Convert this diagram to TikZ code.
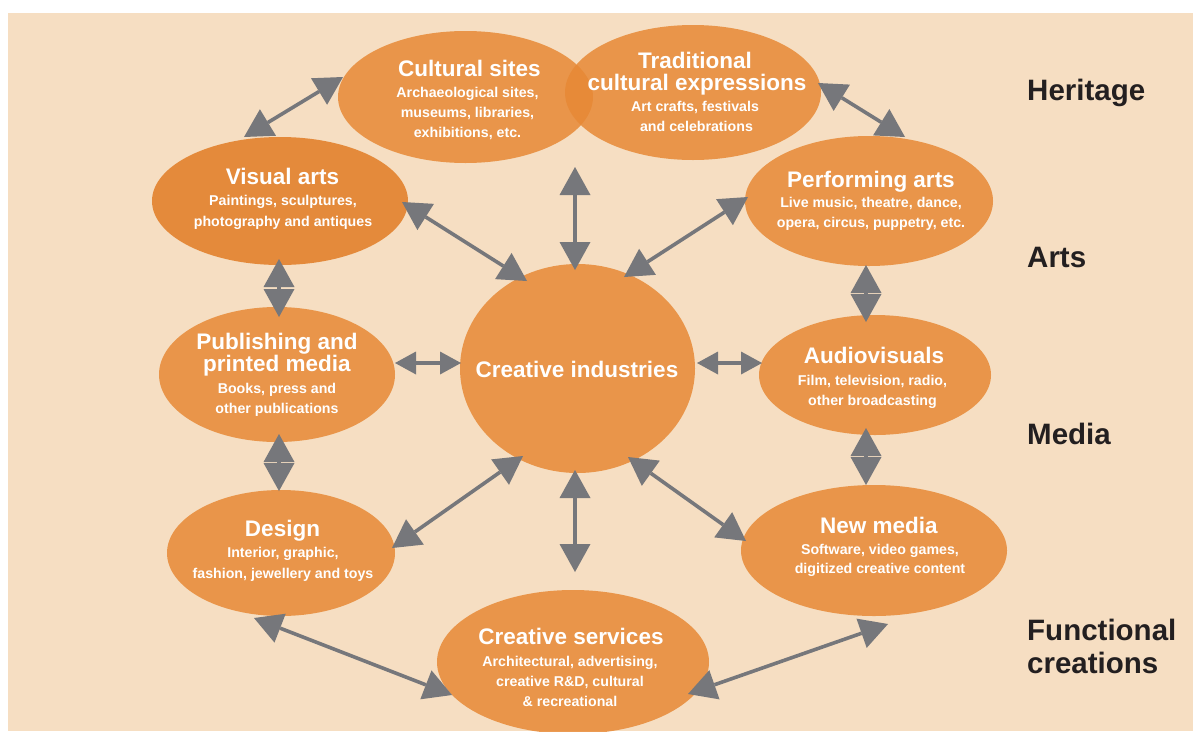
\documentclass[tikz,border=0pt]{standalone}
\usepackage{fontspec}
\setmainfont{Liberation Sans}
\usetikzlibrary{shapes.geometric,arrows.meta}
\definecolor{bgpeach}{HTML}{F6DEC2}
\definecolor{ellfill}{HTML}{E78936}
\definecolor{ellva}{HTML}{E48A3B}
\definecolor{arrgray}{HTML}{76777B}
\definecolor{labtxt}{HTML}{231F20}
\tikzset{
  ell/.style={ellipse, fill=ellfill, fill opacity=0.85, draw=none, inner sep=0pt},
  ttl/.style={text=white, font=\bfseries\fontsize{22.5}{22.5}\selectfont, anchor=base, inner sep=0pt},
  subt/.style={text=white, font=\bfseries\fontsize{14.2}{14.2}\selectfont, anchor=base, inner sep=0pt},
  lab/.style={text=labtxt, font=\bfseries\fontsize{29.5}{29.5}\selectfont, anchor=base west, inner sep=0pt},
  conn/.style={draw=arrgray, line width=3.6pt, >={Triangle[length=28pt,width=31pt,line width=0pt]}, <->},
  sconn/.style={draw=arrgray, line width=3.6pt, >={Triangle[length=21pt,width=23pt,line width=0pt]}, <->}
}
\begin{document}
\begin{tikzpicture}[x=1pt,y=-1pt]
\useasboundingbox (0,0) rectangle (1193,731);
\fill[white] (0,0) rectangle (1193,731);
\fill[bgpeach] (8,13) rectangle (1193,731);

% ellipses
\node[ell, minimum width=255pt, minimum height=132pt] (cs) at (465.5,97) {};
\node[ell, minimum width=256pt, minimum height=135pt] (tr) at (693,92.5) {};
\node[ellipse, fill=ellva, inner sep=0pt, minimum width=256pt, minimum height=128pt] (va) at (280,201) {};
\node[ell, minimum width=248pt, minimum height=130pt] (pa) at (869,201) {};
\node[ell, minimum width=236pt, minimum height=135pt] (pub) at (277,374.5) {};
\node[ell, minimum width=235pt, minimum height=209pt] (ci) at (577.5,368.5) {};
\node[ell, minimum width=232pt, minimum height=120pt] (av) at (875,375) {};
\node[ell, minimum width=228pt, minimum height=126pt] (de) at (281,553) {};
\node[ell, minimum width=266pt, minimum height=131pt] (nm) at (874,550.5) {};
\node[ell, minimum width=272pt, minimum height=144pt] (csv) at (573,662) {};

% texts
\node[ttl] (csT) at (469.5,76) {Cultural sites};
\node[subt] (csS1) at (467.5,97) {Archaeological sites,};
\node[subt] (csS2) at (467.5,117) {museums, libraries,};
\node[subt] (csS3) at (467.5,137) {exhibitions, etc.};

\node[ttl] (trT1) at (695,68) {Traditional};
\node[ttl] (trT2) at (697,90) {cultural expressions};
\node[subt] (trS1) at (695,111) {Art crafts, festivals};
\node[subt] (trS2) at (696.5,131) {and celebrations};

\node[ttl] (vaT) at (282.5,184) {Visual arts};
\node[subt] (vaS1) at (283,205) {Paintings, sculptures,};
\node[subt] (vaS2) at (283,226) {photography and antiques};

\node[ttl] (paT) at (871,187) {Performing arts};
\node[subt] (paS1) at (871,207) {Live music, theatre, dance,};
\node[subt] (paS2) at (871,227) {opera, circus, puppetry, etc.};

\node[ttl] (pubT1) at (277,349.5) {Publishing and};
\node[ttl] (pubT2) at (277,371.5) {printed media};
\node[subt] (pubS1) at (277,393) {Books, press and};
\node[subt] (pubS2) at (277,413) {other publications};

\node[ttl] (ciT) at (577,377) {Creative industries};

\node[ttl] (avT) at (874,363) {Audiovisuals};
\node[subt] (avS1) at (872.5,385) {Film, television, radio,};
\node[subt] (avS2) at (872.5,405) {other broadcasting};

\node[ttl] (deT) at (282.5,536) {Design};
\node[subt] (deS1) at (283,557) {Interior, graphic,};
\node[subt] (deS2) at (283,578) {fashion, jewellery and toys};

\node[ttl] (nmT) at (879,533) {New media};
\node[subt] (nmS1) at (880,554) {Software, video games,};
\node[subt] (nmS2) at (880,573) {digitized creative content};

\node[ttl] (csvT) at (571,644) {Creative services};
\node[subt] (csvS1) at (570,666) {Architectural, advertising,};
\node[subt] (csvS2) at (570,686) {creative R\&D, cultural};
\node[subt] (csvS3) at (570,706) {\& recreational};

% side labels
\node[lab] (lHer) at (1027,100) {Heritage};
\node[lab] (lArt) at (1027,267) {Arts};
\node[lab] (lMed) at (1027,444) {Media};
\node[lab] (lFun1) at (1027,640) {Functional};
\node[lab] (lFun2) at (1027,673) {creations};

% arrow end points
\coordinate (a1s) at (244,137); \coordinate (a1e) at (343,77);
\coordinate (a2s) at (818,83);  \coordinate (a2e) at (905,137);
\coordinate (a3s) at (575,167); \coordinate (a3e) at (575,270);
\coordinate (a4s) at (402,202); \coordinate (a4e) at (527,281);
\coordinate (a5s) at (748,197); \coordinate (a5e) at (624,277);
\coordinate (a6s) at (279,259); \coordinate (a6e) at (279,317);
\coordinate (a7s) at (279,434); \coordinate (a7e) at (279,491);
\coordinate (a8s) at (866,265); \coordinate (a8e) at (866,322);
\coordinate (a9s) at (866,428); \coordinate (a9e) at (866,485);
\coordinate (a10s) at (395,363); \coordinate (a10e) at (461,363);
\coordinate (a11s) at (697,363); \coordinate (a11e) at (762,363);
\coordinate (a12s) at (392,548); \coordinate (a12e) at (523,456);
\coordinate (a13s) at (575,470); \coordinate (a13e) at (575,572);
\coordinate (a14s) at (628,457); \coordinate (a14e) at (746,541);
\coordinate (a15s) at (254,618); \coordinate (a15e) at (452,695);
\coordinate (a16s) at (888,624); \coordinate (a16e) at (688,694);

\draw[conn] (a1s) -- (a1e);
\draw[conn] (a2s) -- (a2e);
\draw[conn] (a3s) -- (a3e);
\draw[conn] (a4s) -- (a4e);
\draw[conn] (a5s) -- (a5e);
\draw[conn] (a6s) -- (a6e);
\draw[conn] (a7s) -- (a7e);
\draw[conn] (a8s) -- (a8e);
\draw[conn] (a9s) -- (a9e);
\draw[sconn] (a10s) -- (a10e);
\draw[sconn] (a11s) -- (a11e);
\draw[conn] (a12s) -- (a12e);
\draw[conn] (a13s) -- (a13e);
\draw[conn] (a14s) -- (a14e);
\draw[conn] (a15s) -- (a15e);
\draw[conn] (a16s) -- (a16e);
\end{tikzpicture}
\end{document}
